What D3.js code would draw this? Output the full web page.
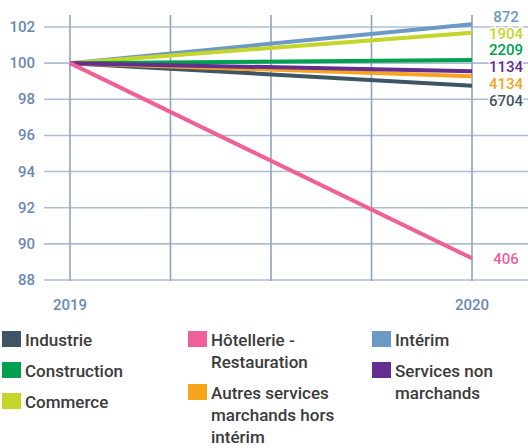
<!DOCTYPE html>
<html lang="fr">
<head>
<meta charset="UTF-8">
<title>Emploi 2019-2020</title>
<script src="https://d3js.org/d3.v7.min.js"></script>
<style>
  body { margin: 0; background: #fff; }
  svg { display: block; }
  text { font-family: Roboto, "Open Sans", sans-serif; }
</style>
</head>
<body>
<svg id="chart" width="528" height="448"></svg>
<script>
// years and y ticks
const years = [2019, 2020];
const yTicks = [88, 90, 92, 94, 96, 98, 100, 102];
const gridX = [2019, 2019.25, 2019.5, 2019.75, 2020];

// secteurs (base 100 en 2019)
const names = ["Intérim", "Commerce", "Construction", "Industrie", "Autres services marchands hors intérim", "Services non marchands", "Hôtellerie - Restauration"];
const colors = ["#6b9ac4", "#c5d52a", "#00a04f", "#3d5565", "#f7a31c", "#642d8f", "#ef5f98"];
const start = [100, 100, 100, 100, 100, 100, 100];
const end = [102.15, 101.68, 100.17, 98.75, 99.28, 99.55, 89.2];
const labels = ["872", "1904", "2209", "6704", "4134", "1134", "406"];

// legend
const legendNames = [
  ["Industrie"], ["Construction"], ["Commerce"],
  ["Hôtellerie -", "Restauration"], ["Autres services", "marchands hors", "intérim"],
  ["Intérim"], ["Services non", "marchands"]
];
const legendColors = ["#3d5565", "#00a04f", "#c5d52a", "#ef5f98", "#f7a31c", "#6b9ac4", "#642d8f"];

const svg = d3.select("#chart");

const x = d3.scaleLinear().domain([2019, 2020]).range([70, 472]);
const y = d3.scaleLinear().domain([88, 102]).range([280, 27]);

// grid
svg.append("g").selectAll("line")
  .data(yTicks).join("line")
  .attr("x1", 44).attr("x2", 528)
  .attr("y1", d => y(d)).attr("y2", d => y(d))
  .attr("stroke", "#aebdd4").attr("stroke-width", 1.6);

svg.append("g").selectAll("line")
  .data(gridX).join("line")
  .attr("x1", d => x(d)).attr("x2", d => x(d))
  .attr("y1", 15).attr("y2", 281)
  .attr("stroke", "#8ea3c3").attr("stroke-width", 1.6);

// y axis labels
svg.append("g").selectAll("text")
  .data(yTicks).join("text")
  .attr("x", 35).attr("y", d => y(d) + 5)
  .attr("text-anchor", "end")
  .attr("font-size", 15).attr("font-weight", 500)
  .attr("fill", "#6c88b6")
  .text(d => d);

// x axis labels
svg.append("g").selectAll("text")
  .data(years).join("text")
  .attr("x", d => x(d)).attr("y", 310)
  .attr("text-anchor", "middle")
  .attr("font-size", 15).attr("font-weight", 500)
  .attr("fill", "#6c88b6")
  .text(d => d);

// lines
const series = names.map((n, i) => ({ name: n, color: colors[i], values: [start[i], end[i]], label: labels[i], end: end[i] }));

const line = d3.line().x((d, i) => x(years[i])).y(d => y(d));

svg.append("g").selectAll("path")
  .data(series).join("path")
  .attr("d", d => line(d.values))
  .attr("fill", "none")
  .attr("stroke", d => d.color)
  .attr("stroke-width", 4)
  .attr("stroke-linecap", "butt");

// end labels: spread the top cluster evenly around its mean
const cluster = series.filter(d => d.end > 95).sort((a, b) => b.end - a.end);
const meanY = d3.mean(cluster, d => y(d.end));
const gap = 16.8;
cluster.forEach((d, i) => { d.ly = meanY + (i - (cluster.length - 1) / 2) * gap; });
series.filter(d => d.end <= 95).forEach(d => { d.ly = y(d.end); });

svg.append("g").selectAll("text")
  .data(series).join("text")
  .attr("x", 506).attr("y", d => d.ly + 5.5)
  .attr("text-anchor", "middle")
  .attr("font-size", 15).attr("font-weight", 500)
  .attr("fill", d => d.color)
  .attr("stroke", "#fff").attr("stroke-width", 3).attr("paint-order", "stroke")
  .text(d => d.label);

// legend
const colX = [2, 188, 372];
const legendPos = [[0, 331], [0, 362], [0, 393], [1, 331], [1, 384], [2, 331], [2, 362]];
const lg = svg.append("g");
legendNames.forEach((lines, i) => {
  const cx = colX[legendPos[i][0]], ty = legendPos[i][1];
  lg.append("rect").attr("x", cx).attr("y", ty).attr("width", 19).attr("height", 16).attr("fill", legendColors[i]);
  const t = lg.append("text").attr("x", cx + 23).attr("y", ty + 15)
    .attr("font-size", 17).attr("font-weight", 500).attr("fill", "#3b3b3b");
  lines.forEach((s, j) => t.append("tspan").attr("x", cx + 23).attr("dy", j ? 22 : 0).text(s));
});
</script>
</body>
</html>
